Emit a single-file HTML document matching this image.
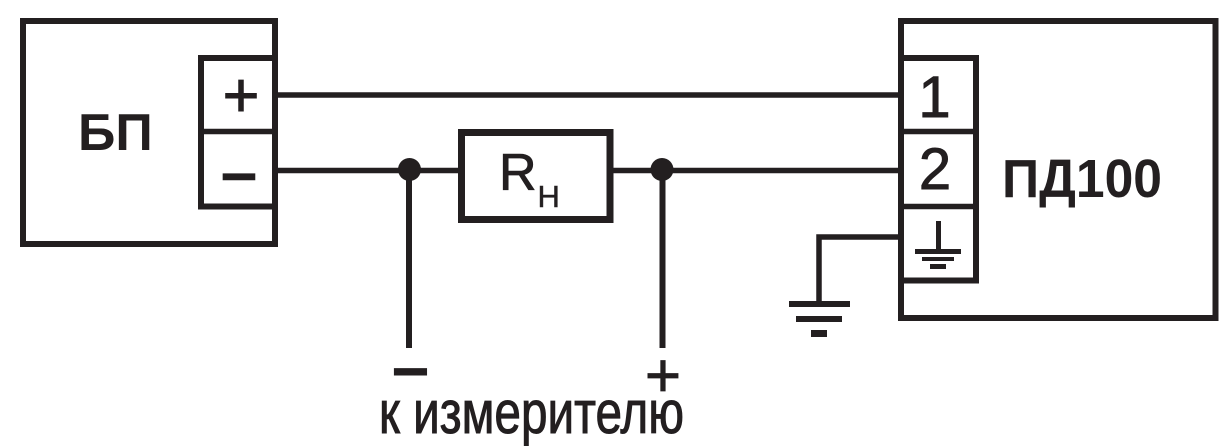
<!DOCTYPE html>
<html>
<head>
<meta charset="utf-8">
<style>
html,body{margin:0;padding:0;background:#fff;}
svg{display:block;}
text{font-family:"Liberation Sans",Arial,sans-serif;fill:#231f20;}
</style>
</head>
<body>
<svg width="1232" height="447" viewBox="0 0 1232 447" xmlns="http://www.w3.org/2000/svg">
<g fill="none" stroke="#231f20" stroke-width="6">
  <!-- БП box -->
  <rect x="23" y="21" width="252" height="223"/>
  <rect x="201" y="58" width="74" height="148.5"/>
  <line x1="201" y1="131.5" x2="275" y2="131.5" stroke-width="5.5"/>
  <!-- ПД100 box -->
  <rect x="901" y="21" width="314.5" height="297"/>
  <rect x="901" y="58" width="75" height="222.5"/>
  <line x1="901" y1="131.5" x2="976" y2="131.5" stroke-width="5.5"/>
  <line x1="901" y1="206.5" x2="976" y2="206.5" stroke-width="5.5"/>
  <!-- resistor -->
  <rect x="461.5" y="132.5" width="148.5" height="87" stroke-width="7"/>
</g>
<g stroke="#231f20" stroke-width="5.5" fill="none">
  <line x1="275" y1="95" x2="901" y2="95"/>
  <line x1="275" y1="170.5" x2="461.5" y2="170.5"/>
  <line x1="610" y1="170.5" x2="901" y2="170.5"/>
  <line x1="409" y1="170" x2="409" y2="348" stroke-width="6"/>
  <line x1="662.5" y1="170" x2="662.5" y2="348" stroke-width="6"/>
  <polyline points="901,237 819,237 819,304"/>
</g>
<g fill="#231f20">
  <circle cx="409.5" cy="169.5" r="11.5"/>
  <circle cx="662" cy="169.5" r="11.5"/>
  <!-- external ground -->
  <rect x="789" y="301" width="61" height="6"/>
  <rect x="796" y="316" width="46" height="6"/>
  <rect x="811" y="330" width="16" height="7"/>
  <!-- terminal ground -->
  <rect x="936" y="221" width="5" height="30"/>
  <rect x="915" y="249" width="46" height="5"/>
  <rect x="922" y="257" width="32" height="4"/>
  <rect x="930" y="264" width="16" height="5"/>
</g>
<!-- text -->
<text x="78" y="150" font-size="52" font-weight="bold">БП</text>
<text x="241" y="116.7" font-size="63" text-anchor="middle" stroke="#231f20" stroke-width="1">+</text>
<text x="239" y="197.5" font-size="62" text-anchor="middle" stroke="#231f20" stroke-width="2.5">−</text>
<text x="499" y="190" font-size="52" stroke="#231f20" stroke-width="0.8">R</text>
<text x="537.5" y="207" font-size="31" stroke="#231f20" stroke-width="0.5">Н</text>
<text x="934.5" y="117" font-size="58" text-anchor="middle" stroke="#231f20" stroke-width="0.9">1</text>
<text x="935" y="189" font-size="58" text-anchor="middle" stroke="#231f20" stroke-width="0.9">2</text>
<text x="1002" y="197" font-size="54" font-weight="bold" textLength="160" lengthAdjust="spacingAndGlyphs">ПД100</text>
<text x="410.5" y="392.5" font-size="62" text-anchor="middle" stroke="#231f20" stroke-width="3">−</text>
<text x="663" y="396.5" font-size="62" text-anchor="middle" stroke="#231f20" stroke-width="0.8">+</text>
<text x="379" y="433" font-size="60" textLength="305" lengthAdjust="spacingAndGlyphs" stroke="#231f20" stroke-width="1">к измерителю</text>
</svg>
</body>
</html>
